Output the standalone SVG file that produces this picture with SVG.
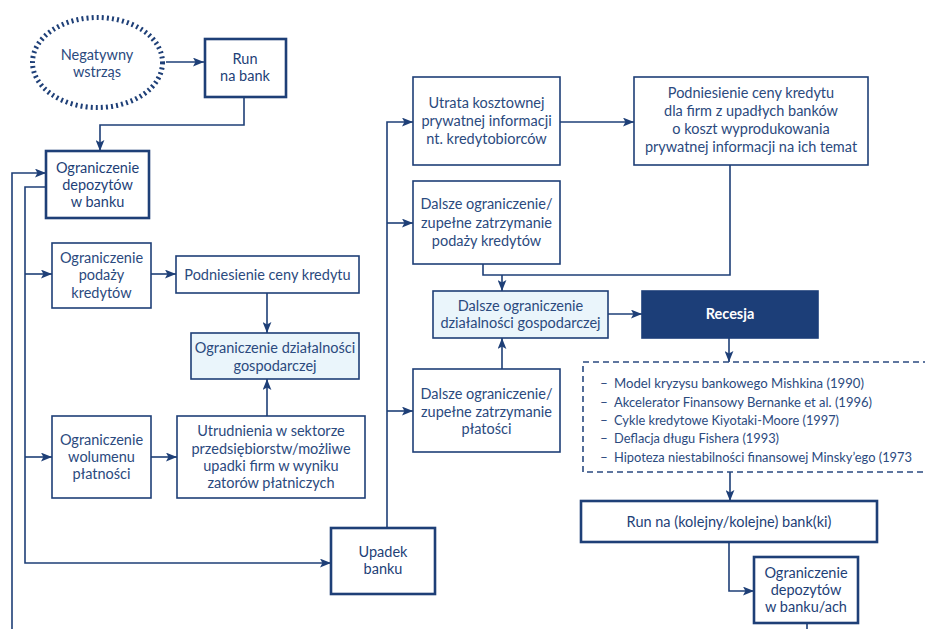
<svg xmlns="http://www.w3.org/2000/svg" width="925" height="629" viewBox="0 0 925 629">
<defs>
<style>
.bx{fill:#fff;stroke:#1e3f77;stroke-width:1.6}
.bt{fill:#fff;stroke:#1e3f77;stroke-width:2.6}
.lb{fill:#eaf5fb;stroke:#1e3f77;stroke-width:1.6}
.dk{fill:#1c3e78;stroke:#1c3e78;stroke-width:1.6}
.ds{fill:#fff;stroke:#2a4a80;stroke-width:1.6;stroke-dasharray:6 4}
text{font-family:Lato,"Liberation Sans",sans-serif;font-size:14.5px;fill:#2b4a7e;text-anchor:middle}
.tk text{fill:#1e3f77}
.w{fill:#fff;font-weight:bold}
.l{text-anchor:start;font-size:13.5px}
.c{fill:none;stroke:#1e3f77;stroke-width:1.6}
</style>
<marker id="ah" viewBox="0 0 10 8" refX="10" refY="4" markerWidth="11" markerHeight="9" markerUnits="userSpaceOnUse" orient="auto"><path d="M0,0 L10,4 L0,8 L2.2,4 z" fill="#1e3f77"/></marker>
</defs>
<rect width="925" height="629" fill="#fff"/>
<g id="connectors">
<path class="c" d="M166,62 H204" marker-end="url(#ah)"/>
<path class="c" d="M244,97 V125 H100 V151" marker-end="url(#ah)"/>
<path class="c" d="M12,629 V173 H46" marker-end="url(#ah)"/>
<path class="c" d="M46,187 H25 V563 H331" marker-end="url(#ah)"/>
<path class="c" d="M25,274 H52" marker-end="url(#ah)"/>
<path class="c" d="M25,457 H52" marker-end="url(#ah)"/>
<path class="c" d="M151,274 H176" marker-end="url(#ah)"/>
<path class="c" d="M267,293 V333" marker-end="url(#ah)"/>
<path class="c" d="M267,416 V379" marker-end="url(#ah)"/>
<path class="c" d="M151,457 H177" marker-end="url(#ah)"/>
<path class="c" d="M387,528 V122 H413" marker-end="url(#ah)"/>
<path class="c" d="M387,223 H413" marker-end="url(#ah)"/>
<path class="c" d="M387,411 H413" marker-end="url(#ah)"/>
<path class="c" d="M560,122 H634" marker-end="url(#ah)"/>
<path class="c" d="M483,264 V275 H730 V165"/>
<path class="c" d="M502,275 V291" marker-end="url(#ah)"/>
<path class="c" d="M502,369 V338" marker-end="url(#ah)"/>
<path class="c" d="M608,314 H642" marker-end="url(#ah)"/>
<path class="c" d="M729,338 V362" marker-end="url(#ah)"/>
<path class="c" d="M730,472 V501" marker-end="url(#ah)"/>
<path class="c" d="M729,542 V591 H754" marker-end="url(#ah)"/>
<path class="c" d="M807,623 V629"/>
</g>
<g id="shock">
<ellipse cx="97.5" cy="62.5" rx="65" ry="45" fill="#fff" stroke="#1e3f77" stroke-width="5" stroke-dasharray="2 3.1"/>
<text x="97" y="60">Negatywny</text><text x="97" y="77">wstrząs</text>
</g>
<g id="run1" class="tk">
<rect class="bt" x="205" y="39" width="81" height="58"/>
<text x="245" y="64">Run</text><text x="245" y="81">na bank</text>
</g>
<g id="ogrdep" class="tk">
<rect class="bt" x="46" y="151" width="103" height="67"/>
<text x="97.5" y="173">Ograniczenie</text><text x="97.5" y="190">depozytów</text><text x="97.5" y="207">w banku</text>
</g>
<g id="podaz">
<rect class="bx" x="52" y="243" width="99" height="65"/>
<text x="101.5" y="263">Ograniczenie</text><text x="101.5" y="280">podaży</text><text x="101.5" y="298">kredytów</text>
</g>
<g id="cena">
<rect class="bx" x="176" y="256" width="183" height="37"/>
<text x="267.5" y="280">Podniesienie ceny kredytu</text>
</g>
<g id="dzial">
<rect class="lb" x="191" y="333" width="168" height="46"/>
<text x="275" y="353">Ograniczenie działalności</text><text x="275" y="371">gospodarczej</text>
</g>
<g id="wolumen">
<rect class="bx" x="52" y="416" width="99" height="82"/>
<text x="101.5" y="445">Ograniczenie</text><text x="101.5" y="462">wolumenu</text><text x="101.5" y="479">płatności</text>
</g>
<g id="utrud">
<rect class="bx" x="177" y="416" width="188" height="82"/>
<text x="271" y="436">Utrudnienia w sektorze</text><text x="271" y="454">przedsiębiorstw/możliwe</text><text x="271" y="471">upadki firm w wyniku</text><text x="271" y="488">zatorów płatniczych</text>
</g>
<g id="upadek" class="tk">
<rect class="bt" x="331" y="528" width="104" height="66"/>
<text x="383" y="557">Upadek</text><text x="383" y="574">banku</text>
</g>
<g id="utrata">
<rect class="bx" x="413" y="77" width="147" height="88"/>
<text x="486.5" y="108">Utrata kosztownej</text><text x="486.5" y="126">prywatnej informacji</text><text x="486.5" y="144">nt. kredytobiorców</text>
</g>
<g id="cenafirm">
<rect class="bx" x="634" y="77" width="234" height="88"/>
<text x="751" y="98">Podniesienie ceny kredytu</text><text x="751" y="116">dla firm z upadłych banków</text><text x="751" y="134">o koszt wyprodukowania</text><text x="751" y="152">prywatnej informacji na ich temat</text>
</g>
<g id="dalszekred">
<rect class="bx" x="413" y="181" width="147" height="83"/>
<text x="486.5" y="209">Dalsze ograniczenie/</text><text x="486.5" y="228">zupełne zatrzymanie</text><text x="486.5" y="246">podaży kredytów</text>
</g>
<g id="dalszedzial">
<rect class="lb" x="433" y="291" width="175" height="47"/>
<text x="520.5" y="311">Dalsze ograniczenie</text><text x="520.5" y="328">działalności gospodarczej</text>
</g>
<g id="dalszeplat">
<rect class="bx" x="413" y="369" width="147" height="83"/>
<text x="486.5" y="399">Dalsze ograniczenie/</text><text x="486.5" y="417">zupełne zatrzymanie</text><text x="486.5" y="434">płatości</text>
</g>
<g id="recesja">
<rect class="dk" x="642" y="291" width="176" height="47"/>
<text class="w" x="730" y="319">Recesja</text>
</g>
<g id="modele">
<rect class="ds" x="583" y="362" width="360" height="110"/>
<text class="l" x="600" y="388">–</text><text class="l" x="614" y="388" textLength="250" lengthAdjust="spacingAndGlyphs">Model kryzysu bankowego Mishkina (1990)</text>
<text class="l" x="600" y="407">–</text><text class="l" x="614" y="407" textLength="258" lengthAdjust="spacingAndGlyphs">Akcelerator Finansowy Bernanke et al. (1996)</text>
<text class="l" x="600" y="425">–</text><text class="l" x="614" y="425" textLength="225" lengthAdjust="spacingAndGlyphs">Cykle kredytowe Kiyotaki-Moore (1997)</text>
<text class="l" x="600" y="443">–</text><text class="l" x="614" y="443" textLength="165" lengthAdjust="spacingAndGlyphs">Deflacja długu Fishera (1993)</text>
<text class="l" x="600" y="462">–</text><text class="l" x="614" y="462" textLength="298" lengthAdjust="spacingAndGlyphs">Hipoteza niestabilności finansowej Minsky’ego (1973</text>
</g>
<g id="run2" class="tk">
<rect class="bt" x="581" y="501" width="296" height="41"/>
<text x="729" y="527">Run na (kolejny/kolejne) bank(ki)</text>
</g>
<g id="ogrdep2" class="tk">
<rect class="bt" x="754" y="557" width="104" height="66"/>
<text x="806" y="578">Ograniczenie</text><text x="806" y="595">depozytów</text><text x="806" y="612">w banku/ach</text>
</g>
</svg>
